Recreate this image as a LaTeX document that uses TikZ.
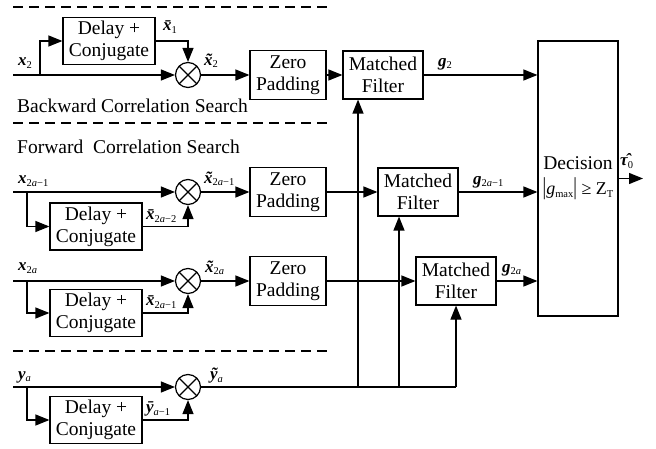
\documentclass[tikz,border=0pt]{standalone}
\usepackage{fontspec}
\usepackage{graphicx}
\setmainfont{Liberation Serif}
\usetikzlibrary{arrows.meta}
\newcommand{\vx}[1]{{\bfseries\itshape #1}}
\newcommand{\lo}[1]{\raisebox{-0.35ex}{\fontsize{10.5}{10.5}\selectfont #1}}
\tikzset{
  blk/.style={draw, line width=1.2pt, align=center, font=\fontsize{19.5}{22}\selectfont, inner sep=0pt},
  dcbox/.style={blk, minimum width=92pt, minimum height=47pt},
  zpbox/.style={blk, minimum width=76pt, minimum height=49pt},
  mfbox/.style={blk, minimum width=80pt, minimum height=48pt},
  mult/.style={draw, circle, line width=1.2pt, minimum size=25pt, inner sep=0pt,
    path picture={\draw[line width=1.2pt] (path picture bounding box.south west) -- (path picture bounding box.north east)
      (path picture bounding box.north west) -- (path picture bounding box.south east);}},
  wire/.style={line width=1.2pt},
  arr/.style={wire, -{Triangle[length=14pt,width=11pt]}},
  lab/.style={anchor=west, inner sep=0pt, font=\fontsize{17}{17}\selectfont},
  sep/.style={line width=1.2pt, dash pattern=on 10pt off 6pt},
  ttl/.style={anchor=west, inner sep=0pt, font=\fontsize{19.5}{19.5}\selectfont},
}
\begin{document}
\begin{tikzpicture}[x=1pt,y=-1pt]
\useasboundingbox (0,0) rectangle (656,449);
% separators
\draw[sep] (13,7) -- (330,7);
\draw[sep] (13,123) -- (330,123);
\draw[sep] (13,351) -- (330,351);
\node[ttl] (bk) at (17,106) {Backward Correlation Search};
\node[ttl] (fw) at (17,147) {Forward\ \ Correlation Search};
% multipliers
\node[mult] (m1) at (188,75) {};
\node[mult] (m2) at (188,192) {};
\node[mult] (m3) at (188,281) {};
\node[mult] (m4) at (188,387) {};
% delay boxes
\node[dcbox] (d1) at (109,41) {Delay +\\Conjugate};
\node[dcbox] (d2) at (96,226.5) {Delay +\\Conjugate};
\node[dcbox] (d3) at (96,313) {Delay +\\Conjugate};
\node[dcbox] (d4) at (96,420) {Delay +\\Conjugate};
% zero padding
\node[zpbox] (z1) at (288,75) {Zero\\Padding};
\node[zpbox] (z2) at (288,192) {Zero\\Padding};
\node[zpbox] (z3) at (288,281) {Zero\\Padding};
% matched filters
\node[mfbox] (f1) at (383,75) {Matched\\Filter};
\node[mfbox] (f2) at (418,192) {Matched\\Filter};
\node[mfbox] (f3) at (456,281) {Matched\\Filter};
% decision
\node[blk, minimum width=80pt, minimum height=275pt] (dec) at (578,178.5)
  {Decision\\[3pt]{\fontsize{18}{18}\selectfont\scalebox{1}[1.35]{|}\textit{g}\lo{max}\scalebox{1}[1.35]{|} ≥ Z\lo{T}}};
% coordinates
\coordinate (in1) at (13,75);
\coordinate (in2) at (13,192);
\coordinate (in3) at (13,281);
\coordinate (in4) at (13,387);
\coordinate (b1) at (40,75);
\coordinate (b2) at (27,192);
\coordinate (b3) at (27,281);
\coordinate (b4) at (27,387);
\coordinate (v1) at (358,387);
\coordinate (v2) at (399,387);
\coordinate (v3) at (456,387);
\coordinate (out) at (643,178.5);
% group 1
\draw[arr] (in1) -- (m1);
\draw[arr] (b1) |- (d1.west);
\draw[arr] (d1.east) -| (m1.north);
\draw[arr] (m1) -- (z1);
% group 2
\draw[arr] (in2) -- (m2);
\draw[arr] (b2) |- (d2.west);
\draw[arr] (d2.east) -| (m2.south);
\draw[arr] (m2) -- (z2);
% group 3
\draw[arr] (in3) -- (m3);
\draw[arr] (b3) |- (d3.west);
\draw[arr] (d3.east) -| (m3.south);
\draw[arr] (m3) -- (z3);
% group 4
\draw[arr] (in4) -- (m4);
\draw[arr] (b4) |- (d4.west);
\draw[arr] (d4.east) -| (m4.south);
\draw[wire] (m4) -- (v3);
% to matched filters
\draw[arr] (z1) -- (f1);
\draw[arr] (z2) -- (f2);
\draw[arr] (z3) -- (f3);
\draw[arr] (v1) -- (v1 |- f1.south);
\draw[arr] (v2) -- (v2 |- f2.south);
\draw[arr] (v3) -- (f3.south);
% to decision
\draw[arr] (f1.east) -- (f1.east -| dec.west);
\draw[arr] (f2.east) -- (f2.east -| dec.west);
\draw[arr] (f3.east) -- (f3.east -| dec.west);
\draw[arr] (dec.east) -- (out);
% labels
\node[lab] (lx2) at (18,63) {\vx{x}\lo{2}};
\node[lab] (lxb1) at (163,27) {\vx{\={x}}\lo{1}};
\node[lab] (lxt2) at (204,61) {\vx{\~{x}}\lo{2}};
\node[lab] (lx21) at (18,181) {\vx{x}\lo{2\textit{a}−1}};
\node[lab] (lxb22) at (146,216) {\vx{\={x}}\lo{2\textit{a}−2}};
\node[lab] (lxt21) at (204,179) {\vx{\~{x}}\lo{2\textit{a}−1}};
\node[lab] (lx2a) at (18,268) {\vx{x}\lo{2\textit{a}}};
\node[lab] (lxt2a) at (205,268) {\vx{\~{x}}\lo{2\textit{a}}};
\node[lab] (lxb21) at (146,302) {\vx{\={x}}\lo{2\textit{a}−1}};
\node[lab] (lya) at (18,377) {\vx{y}\lo{\textit{a}}};
\node[lab] (lyt) at (210,376) {\vx{\~{y}}\lo{\textit{a}}};
\node[lab] (lyb) at (146,409) {\vx{\={y}}\lo{\textit{a}−1}};
\node[lab] (lg2) at (438,64) {\vx{g}\lo{2}};
\node[lab] (lg21) at (473,182) {\vx{g}\lo{2\textit{a}−1}};
\node[lab] (lg2a) at (502,270) {\vx{g}\lo{2\textit{a}}};
\node[lab] (ltau) at (620,161) {\vx{\^{τ}}\lo{0}};
\end{tikzpicture}
\end{document}
